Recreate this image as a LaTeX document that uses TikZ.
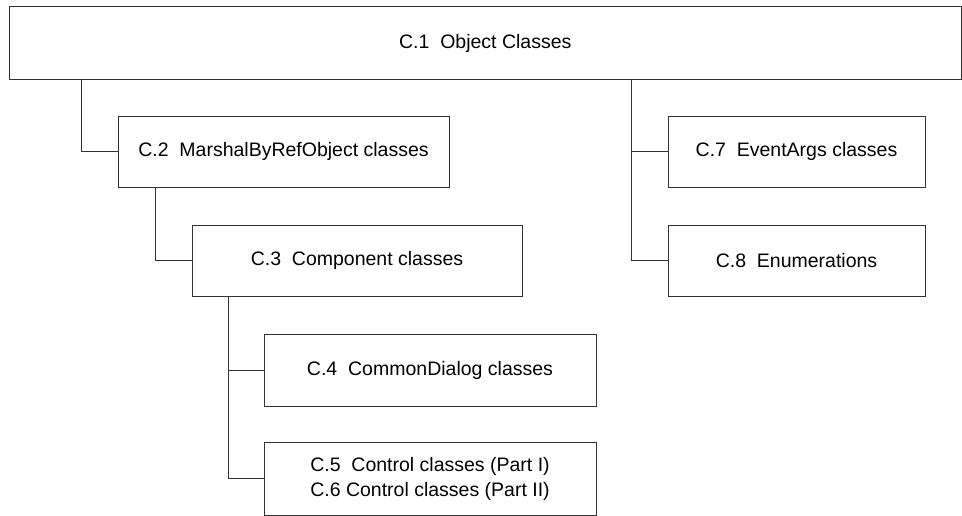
\documentclass[tikz,border=0pt]{standalone}
\usepackage{fontspec}
\setmainfont{Liberation Sans}
\begin{document}
\begin{tikzpicture}[x=1pt, y=-1pt,
  classbox/.style={draw=black!80, line width=0.9pt, rectangle, inner sep=0pt,
    minimum height=71pt, align=center, font=\fontsize{19.5}{25}\selectfont},
  link/.style={draw=black!80, line width=0.9pt}]

  \useasboundingbox (0,0) rectangle (962,515);

  % Root
  \node[classbox, minimum width=951.5pt, minimum height=73pt] (object) at (485.25,43) {C.1~~Object Classes};

  % Left branch
  \node[classbox, minimum width=331pt] (marshal) at (283.5,151.5) {C.2~~MarshalByRefObject classes};
  \node[classbox, minimum width=330pt] (component) at (357,260.5) {C.3~~Component classes};
  \node[classbox, minimum width=332pt, minimum height=72pt] (dialog) at (430,370) {C.4~~CommonDialog classes};
  \node[classbox, minimum width=332pt, minimum height=73pt] (control) at (430,478.5) {C.5~~Control classes (Part I)\\C.6 Control classes (Part II)};

  % Right branch
  \node[classbox, minimum width=257pt] (eventargs) at (796.5,151.5) {C.7~~EventArgs classes};
  \node[classbox, minimum width=257pt] (enums) at (796.5,260.5) {C.8~~Enumerations};

  % Connectors
  \draw[link] ([xshift=72.5pt]object.south west) |- (marshal.west);
  \draw[link] ([xshift=38pt]marshal.south west) |- (component.west);
  \draw[link] ([xshift=37pt]component.south west) |- (dialog.west);
  \draw[link] ([xshift=37pt]component.south west) |- (control.west);
  \draw[link] ([xshift=622.5pt]object.south west) |- (eventargs.west);
  \draw[link] ([xshift=622.5pt]object.south west) |- (enums.west);
\end{tikzpicture}
\end{document}
